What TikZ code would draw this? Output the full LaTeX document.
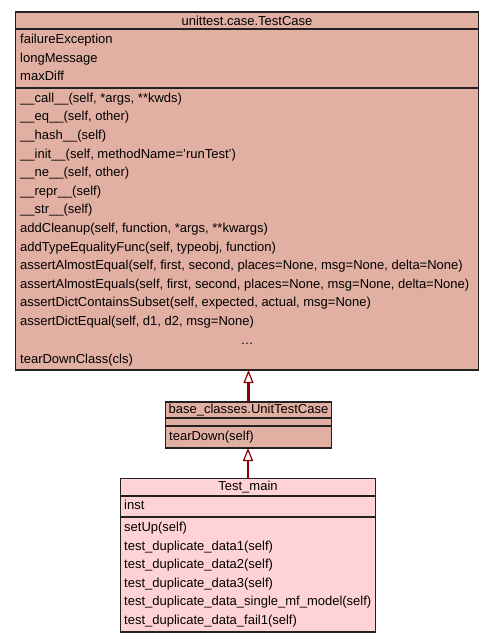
\documentclass[tikz,border=0pt]{standalone}
\usepackage{fontspec}
\setmainfont{Liberation Sans}
\usetikzlibrary{arrows.meta}
\definecolor{boxa}{HTML}{E2B0A2}
\definecolor{boxb}{HTML}{FFD3D6}
\definecolor{edgec}{HTML}{8B0000}
\definecolor{bord}{HTML}{222222}
\begin{document}
\begin{tikzpicture}[x=1pt,y=-1pt,
  cls/.style={draw=bord, line width=1.2pt, inner sep=0pt, outer sep=0pt},
  txt/.style={anchor=base west, inner sep=0pt, font=\fontsize{13}{15}\selectfont},
  ttl/.style={anchor=base, inner sep=0pt, font=\fontsize{13}{15}\selectfont},
  sepl/.style={draw=bord, line width=1.2pt},
  inh/.style={draw=edgec, line width=2.8pt, -{Triangle[length=13pt, width=10pt, line width=1.2pt, fill=white]}}
]
\useasboundingbox[fill=white] (0,0) rectangle (493,643);
% unittest.case.TestCase
\node[cls, fill=boxa, minimum width=463pt, minimum height=358pt] (tc) at (247,191) {};
\draw[sepl] (tc.west |- 0,29) -- (tc.east |- 0,29);
\draw[sepl] (tc.west |- 0,88) -- (tc.east |- 0,88);
\node[ttl] (tct) at (247,25) {unittest.case.TestCase};
\node[txt] (tca1) at (20,43.5) {failureException};
\node[txt] (tca2) at (20,62) {longMessage};
\node[txt] (tca3) at (20,80.5) {maxDiff};
\foreach \t [count=\i from 0] in {%
  {\_\_call\_\_(self, *args, **kwds)},
  {\_\_eq\_\_(self, other)},
  {\_\_hash\_\_(self)},
  {\_\_init\_\_(self, methodName='runTest')},
  {\_\_ne\_\_(self, other)},
  {\_\_repr\_\_(self)},
  {\_\_str\_\_(self)},
  {addCleanup(self, function, *args, **kwargs)},
  {addTypeEqualityFunc(self, typeobj, function)},
  {assertAlmostEqual(self, first, second, places=None, msg=None, delta=None)},
  {assertAlmostEquals(self, first, second, places=None, msg=None, delta=None)},
  {assertDictContainsSubset(self, expected, actual, msg=None)},
  {assertDictEqual(self, d1, d2, msg=None)}}
  \node[txt] (tcm\i) at (20,102.3+18.6*\i) {\t};
\node[ttl] (tcdots) at (247,344.5) {…};
\node[txt] (tcm14) at (20,363) {tearDownClass(cls)};
% base_classes.UnitTestCase
\node[cls, fill=boxa, minimum width=166pt, minimum height=46pt] (utc) at (248.5,425) {};
\draw[sepl] (utc.west |- 0,418) -- (utc.east |- 0,418);
\draw[sepl] (utc.west |- 0,426) -- (utc.east |- 0,426);
\node[ttl] (utct) at (248.5,413.3) {base\_classes.UnitTestCase};
\node[txt] (utcm) at (169,440) {tearDown(self)};
% Test_main
\node[cls, fill=boxb, minimum width=255pt, minimum height=153.5pt] (tm) at (248,555.25) {};
\draw[sepl] (tm.west |- 0,496) -- (tm.east |- 0,496);
\draw[sepl] (tm.west |- 0,517) -- (tm.east |- 0,517);
\node[ttl] (tmt) at (248,490) {Test\_main};
\node[txt] (tma) at (124,509.3) {inst};
\foreach \t [count=\i from 0] in {%
  {setUp(self)},
  {test\_duplicate\_data1(self)},
  {test\_duplicate\_data2(self)},
  {test\_duplicate\_data3(self)},
  {test\_duplicate\_data\_single\_mf\_model(self)},
  {test\_duplicate\_data\_fail1(self)}}
  \node[txt] (tmm\i) at (124,531.7+18.5*\i) {\t};
% inheritance
\draw[inh] (utc.north) -- (utc.north |- tc.south);
\draw[inh] (tm.north) -- (tm.north |- utc.south);
\end{tikzpicture}
\end{document}
